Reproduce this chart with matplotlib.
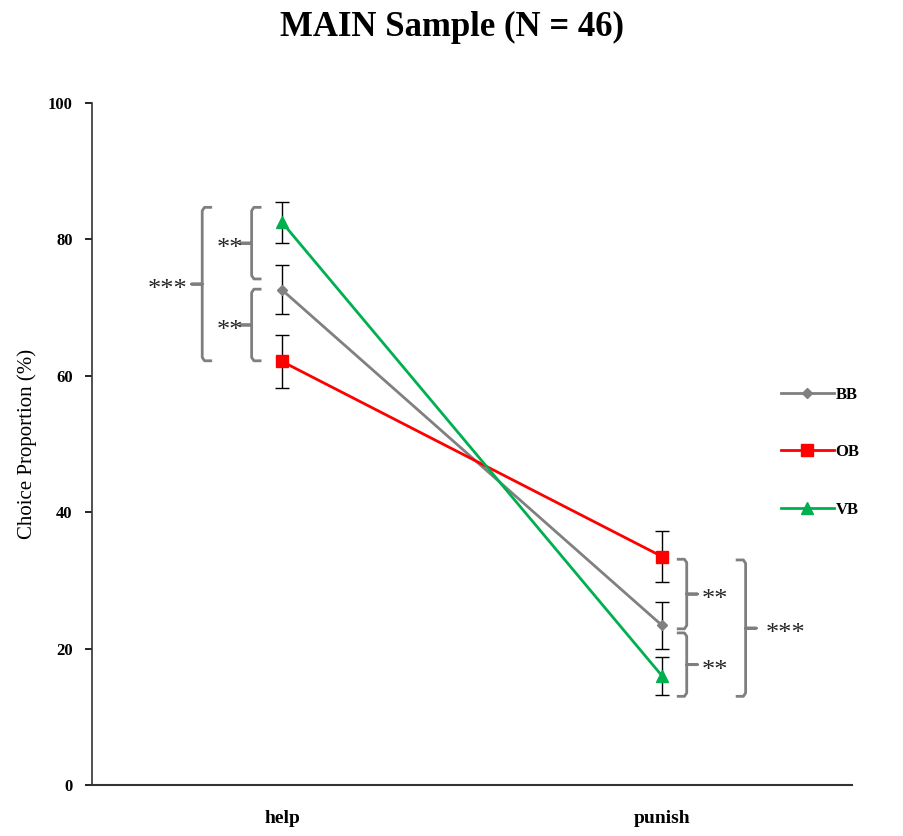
import matplotlib
matplotlib.use('Agg')
import matplotlib.pyplot as plt
import numpy as np

plt.rcParams['font.family'] = ['Liberation Serif', 'DejaVu Serif']

conditions = ['help', 'punish']
series = ['BB', 'OB', 'VB']
bb_mean = [72.6, 23.4]
bb_err = [3.6, 3.4]
ob_mean = [62.1, 33.5]
ob_err = [3.9, 3.8]
vb_mean = [82.5, 16.0]
vb_err = [3.0, 2.8]

colors = {'BB': '#808080', 'OB': '#FF0000', 'VB': '#00B050'}
markers = {'BB': 'D', 'OB': 's', 'VB': '^'}
msizes = {'BB': 5, 'OB': 8, 'VB': 8}

# significance brackets: (x, y_low, y_high, side, label, text gap)
brackets_help = [(0.29, 62.2, 84.7, 'left', '***', 0.012),
                 (0.42, 74.2, 84.7, 'left', '**', -0.005),
                 (0.42, 62.2, 72.7, 'left', '**', -0.005)]
brackets_punish = [(1.565, 22.9, 33.1, 'right', '**', 0.012),
                   (1.565, 13.0, 22.3, 'right', '**', 0.012),
                   (1.72, 13.0, 33.0, 'right', '***', 0.025)]

fig = plt.figure(figsize=(9.04, 8.36), dpi=100)
ax = fig.add_axes([0.1018, 0.061, 0.8407, 0.8158])

x = np.array([0.5, 1.5])
data = {'BB': (bb_mean, bb_err), 'OB': (ob_mean, ob_err), 'VB': (vb_mean, vb_err)}
handles = []
for name in series:
    m, e = data[name]
    ax.errorbar(x, m, yerr=e, fmt='none', ecolor='black', elinewidth=1.0,
                capsize=5, capthick=1.0, zorder=2)
    h, = ax.plot(x, m, color=colors[name], marker=markers[name], markersize=msizes[name],
                 linewidth=2.0, zorder=3, label=name)
    handles.append(h)

def bracket(xb, y0, y1, side, label, gap):
    w = 0.026
    t = 0.028
    ym = (y0 + y1) / 2
    c = '#7f7f7f'
    d = 1 if side == 'left' else -1
    ax.plot([xb + d * w, xb + d * 0.006, xb, xb, xb - d * t, xb, xb, xb + d * 0.006, xb + d * w],
            [y1, y1, y1 - 0.5, ym, ym, ym, y0 + 0.5, y0, y0], color=c, lw=2.0,
            solid_joinstyle='round', solid_capstyle='butt', clip_on=False)
    if side == 'left':
        ax.text(xb - t - gap, ym - 0.9, label, ha='right', va='center',
                fontsize=19, color='#262626', clip_on=False)
    else:
        ax.text(xb + t + gap, ym - 0.9, label, ha='left', va='center',
                fontsize=19, color='#262626', clip_on=False)

for b in brackets_help + brackets_punish:
    bracket(*b)

ax.set_xlim(0, 2)
ax.set_ylim(0, 100)
ax.set_yticks([0, 20, 40, 60, 80, 100])
ax.set_xticks(x)
ax.set_xticklabels(conditions, fontsize=14, fontweight='bold')
for lab in ax.get_yticklabels():
    lab.set_fontweight('bold')
    lab.set_fontsize(12)
ax.tick_params(axis='x', length=0, pad=18)
ax.tick_params(axis='y', length=5, width=1.2, pad=9)
ax.spines['top'].set_visible(False)
ax.spines['right'].set_visible(False)
ax.spines['left'].set_linewidth(1.2)
ax.spines['bottom'].set_linewidth(1.5)
ax.spines['left'].set_color('#333333')
ax.spines['bottom'].set_color('#333333')
ax.set_ylabel('Choice Proportion (%)', fontsize=15, labelpad=8)

fig.suptitle('MAIN Sample (N = 46)', fontsize=25, fontweight='bold', y=0.987)

leg = fig.legend(handles=handles, loc='center left', bbox_to_anchor=(0.847, 0.459),
                 frameon=False, handlelength=3.2, handletextpad=0.1,
                 labelspacing=2.5, prop={'weight': 'bold', 'size': 12})

fig.savefig('out.png', dpi=100)
